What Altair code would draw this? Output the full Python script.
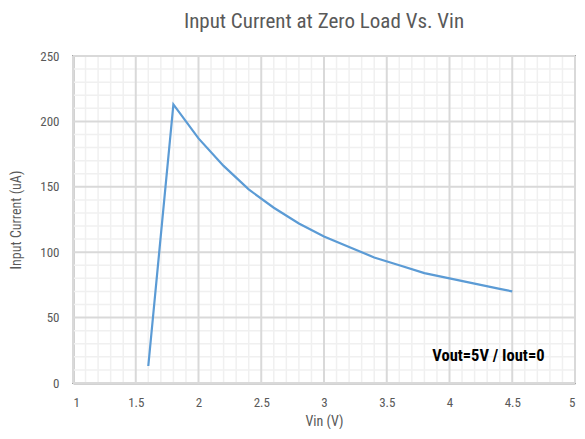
import altair as alt
import pandas as pd
import numpy as np

vin = [1.6, 1.8, 2.0, 2.2, 2.4, 2.6, 2.8, 3.0, 3.2, 3.4, 3.6, 3.8, 4.0, 4.2, 4.4, 4.5]
current = [13, 213, 187, 166, 148, 134, 122, 112, 104, 96, 90, 84, 80, 76, 72, 70]

x_major = [1, 1.5, 2, 2.5, 3, 3.5, 4, 4.5, 5]
y_major = [0, 50, 100, 150, 200, 250]
x_minor = [round(v, 1) for v in np.arange(1.1, 5.0, 0.1) if abs(v * 2 - round(v * 2)) > 1e-6]
y_minor = [v for v in range(10, 250, 10) if v % 50 != 0]

FONT = "Roboto Condensed"
df = pd.DataFrame({"vin": vin, "current": current})
note = pd.DataFrame({"vin": [4.31], "current": [21], "label": ["Vout=5V / Iout=0"]})

xs = alt.Scale(domain=[1, 5], nice=False)
ys = alt.Scale(domain=[0, 250], nice=False)

minor_x = alt.Chart(pd.DataFrame({"v": x_minor})).mark_rule(color="#f0f0f0", strokeWidth=1.5).encode(
    x=alt.X("v:Q", scale=xs))
minor_y = alt.Chart(pd.DataFrame({"v": y_minor})).mark_rule(color="#f0f0f0", strokeWidth=1.5).encode(
    y=alt.Y("v:Q", scale=ys))
major_xr = alt.Chart(pd.DataFrame({"v": x_major})).mark_rule(color="#d9d9d9", strokeWidth=2).encode(
    x=alt.X("v:Q", scale=xs))
major_yr = alt.Chart(pd.DataFrame({"v": y_major})).mark_rule(color="#d9d9d9", strokeWidth=2).encode(
    y=alt.Y("v:Q", scale=ys))

line = alt.Chart(df).mark_line(color="#5b9bd5", strokeWidth=2.2).encode(
    x=alt.X("vin:Q", title="Vin (V)", scale=xs,
            axis=alt.Axis(values=x_major, format="~g", grid=False, labelOverlap=False,
                          labelPadding=13, titlePadding=5)),
    y=alt.Y("current:Q", title="Input Current (uA)", scale=ys,
            axis=alt.Axis(values=y_major, grid=False, labelOverlap=False,
                          labelPadding=14, titlePadding=16)),
)

text = alt.Chart(note).mark_text(font=FONT, fontSize=16.5, fontWeight="bold", color="#000000").encode(
    x="vin:Q", y="current:Q", text="label:N"
)

chart = alt.layer(minor_x, minor_y, major_xr, major_yr, line, text).properties(
    width=502, height=327,
    autosize=alt.AutoSizeParams(type="none"),
    padding={"left": 65, "top": 48, "right": 2, "bottom": 46},
    title=alt.TitleParams("Input Current at Zero Load Vs. Vin", font=FONT, fontSize=21,
                          fontWeight="normal", color="#595959", anchor="middle", offset=18),
).configure_axis(
    labelFont=FONT, titleFont=FONT, labelFontSize=13, titleFontSize=14,
    labelColor="#595959", titleColor="#595959", titleFontWeight="normal",
    ticks=False, domainColor="#a6a6a6", domainWidth=2,
).configure_view(stroke="#a6a6a6", strokeWidth=2)

chart.save("out.html", embed_options={"renderer": "svg", "actions": False})
